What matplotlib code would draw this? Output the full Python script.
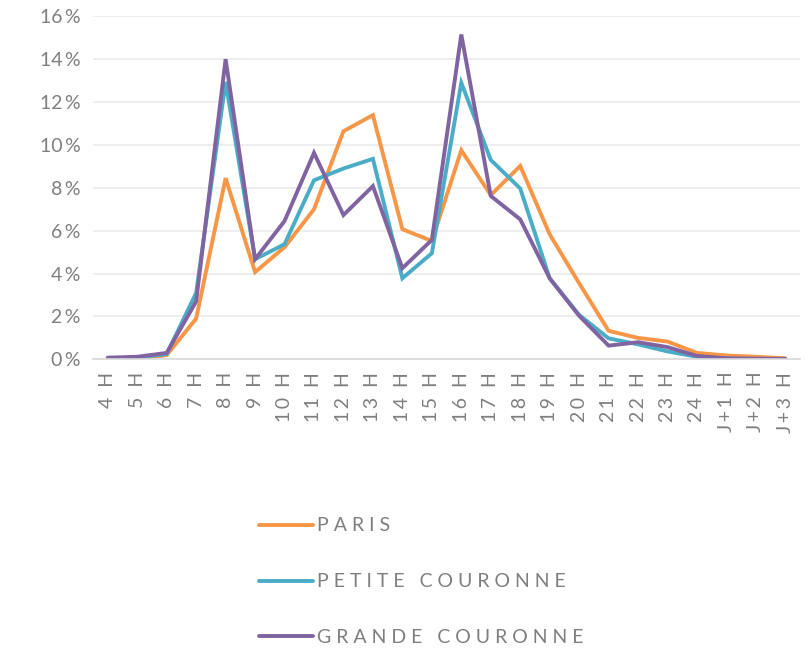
import matplotlib.pyplot as plt
import numpy as np

hours = ["4 H", "5 H", "6 H", "7 H", "8 H", "9 H", "10 H", "11 H", "12 H",
         "13 H", "14 H", "15 H", "16 H", "17 H", "18 H", "19 H", "20 H",
         "21 H", "22 H", "23 H", "24 H", "J+1 H", "J+2 H", "J+3 H"]

paris = [0.0, 0.05, 0.2, 1.9, 8.45, 4.07, 5.23, 7.0, 10.64, 11.39, 6.07, 5.52,
         9.75, 7.66, 9.02, 5.83, 3.55, 1.33, 1.0, 0.83, 0.3, 0.18, 0.12, 0.05]
petite = [0.05, 0.08, 0.25, 3.1, 12.94, 4.67, 5.37, 8.35, 8.9, 9.35, 3.78, 4.95,
          12.9, 9.3, 7.97, 3.78, 2.07, 0.98, 0.7, 0.37, 0.12, 0.03, 0.02, 0.02]
grande = [0.08, 0.12, 0.3, 2.7, 14.0, 4.67, 6.45, 9.63, 6.73, 8.08, 4.25, 5.57,
          15.15, 7.62, 6.53, 3.78, 2.03, 0.64, 0.8, 0.57, 0.16, 0.05, 0.03, 0.02]

series_names = ["PARIS", "PETITE COURONNE", "GRANDE COURONNE"]
colors = ["#F79646", "#4BACC6", "#8064A2"]

plt.rcParams['font.family'] = ['Lato', 'DejaVu Sans']
grey = "#7F7F7F"


def spaced(s, sep="\u2009"):
    return sep.join(s)


fig = plt.figure(figsize=(8.09, 6.51), dpi=100)
ax = fig.add_axes([0.115, 0.448, 0.874, 0.527])

x = np.arange(len(hours))
for vals, name, c in zip([paris, petite, grande], series_names, colors):
    ax.plot(x, vals, color=c, lw=2.8, label=spaced(name, " "),
            solid_capstyle='round', solid_joinstyle='miter')

ax.set_xlim(-0.5, len(hours) - 0.5)
ax.set_ylim(0, 16)
yt = np.arange(0, 17, 2)
ax.set_yticks(yt)
ax.set_yticklabels([f"{v}\u2009%" for v in yt], color=grey, fontsize=14)
ax.set_xticks(x)
ax.set_xticklabels([spaced(h) for h in hours], rotation=90, color=grey,
                   fontsize=14)
ax.tick_params(length=0, pad=9)
ax.grid(axis='y', color="#EBEBEB", lw=1.2)
ax.set_axisbelow(True)
for s in ["top", "right", "left"]:
    ax.spines[s].set_visible(False)
ax.spines["bottom"].set_color("#D9D9D9")
ax.spines["bottom"].set_linewidth(1.2)

fig.legend(loc="upper left", bbox_to_anchor=(0.298, 0.232), frameon=False,
           fontsize=14, handlelength=2.8, handletextpad=0.2, labelspacing=2.0,
           labelcolor=grey)

fig.savefig("out.png", dpi=100)
